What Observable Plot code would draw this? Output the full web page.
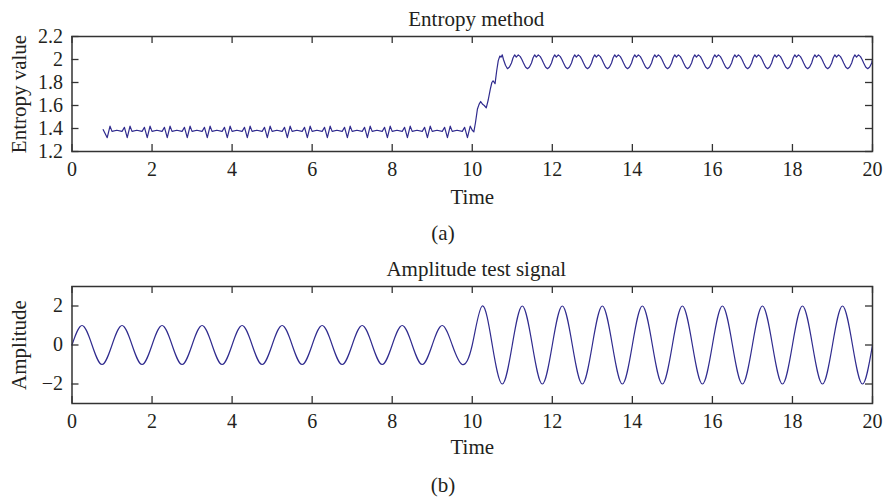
<!DOCTYPE html>
<html><head><meta charset="utf-8">
<script src="https://cdn.jsdelivr.net/npm/d3@7"></script>
<script src="https://cdn.jsdelivr.net/npm/@observablehq/plot@0.6"></script>
<style>html,body{margin:0;padding:0;background:#fff;} #chart svg{display:block;}</style>
</head><body><div id="chart"></div>
<script>
// ---------- data ----------
const titleA = "Entropy method", ylabelA = "Entropy value", captionA = "(a)";
const titleB = "Amplitude test signal", ylabelB = "Amplitude", captionB = "(b)";
const xLabel = "Time";
const xTicks = [0, 2, 4, 6, 8, 10, 12, 14, 16, 18, 20];
const yTicksA = [1.2, 1.4, 1.6, 1.8, 2, 2.2];
const yTicksB = [-2, 0, 2];

const entT = [
  0.78,0.88,0.95,
  1,1.12,1.25,1.31,1.38,1.45,1.5,1.62,1.75,1.81,1.88,1.95,
  2,2.12,2.25,2.31,2.38,2.45,2.5,2.62,2.75,2.81,2.88,2.95,
  3,3.12,3.25,3.31,3.38,3.45,3.5,3.62,3.75,3.81,3.88,3.95,
  4,4.12,4.25,4.31,4.38,4.45,4.5,4.62,4.75,4.81,4.88,4.95,
  5,5.12,5.25,5.31,5.38,5.45,5.5,5.62,5.75,5.81,5.88,5.95,
  6,6.12,6.25,6.31,6.38,6.45,6.5,6.62,6.75,6.81,6.88,6.95,
  7,7.12,7.25,7.31,7.38,7.45,7.5,7.62,7.75,7.81,7.88,7.95,
  8,8.12,8.25,8.31,8.38,8.45,8.5,8.62,8.75,8.81,8.88,8.95,
  9,9.12,9.25,9.31,9.38,9.45,9.5,9.62,9.75,9.81,9.88,9.95,
  10,10.04,10.08,10.13,10.17,10.21,10.26,10.3,10.35,10.4,10.45,10.49,10.52,10.57,10.61,10.65,10.69,10.72,10.75,10.78,10.83,10.88,10.93,10.98,
  11.02,11.06,11.1,11.15,11.2,11.24,11.28,11.33,11.38,11.43,11.48,11.52,11.56,11.6,11.65,11.7,11.74,11.78,11.83,11.88,11.93,11.98,
  12.02,12.06,12.1,12.15,12.2,12.24,12.28,12.33,12.38,12.43,12.48,12.52,12.56,12.6,12.65,12.7,12.74,12.78,12.83,12.88,12.93,12.98,
  13.02,13.06,13.1,13.15,13.2,13.24,13.28,13.33,13.38,13.43,13.48,13.52,13.56,13.6,13.65,13.7,13.74,13.78,13.83,13.88,13.93,13.98,
  14.02,14.06,14.1,14.15,14.2,14.24,14.28,14.33,14.38,14.43,14.48,14.52,14.56,14.6,14.65,14.7,14.74,14.78,14.83,14.88,14.93,14.98,
  15.02,15.06,15.1,15.15,15.2,15.24,15.28,15.33,15.38,15.43,15.48,15.52,15.56,15.6,15.65,15.7,15.74,15.78,15.83,15.88,15.93,15.98,
  16.02,16.06,16.1,16.15,16.2,16.24,16.28,16.33,16.38,16.43,16.48,16.52,16.56,16.6,16.65,16.7,16.74,16.78,16.83,16.88,16.93,16.98,
  17.02,17.06,17.1,17.15,17.2,17.24,17.28,17.33,17.38,17.43,17.48,17.52,17.56,17.6,17.65,17.7,17.74,17.78,17.83,17.88,17.93,17.98,
  18.02,18.06,18.1,18.15,18.2,18.24,18.28,18.33,18.38,18.43,18.48,18.52,18.56,18.6,18.65,18.7,18.74,18.78,18.83,18.88,18.93,18.98,
  19.02,19.06,19.1,19.15,19.2,19.24,19.28,19.33,19.38,19.43,19.48,19.52,19.56,19.6,19.65,19.7,19.74,19.78,19.83,19.88,19.93,19.98,
  20
];
const entV = [
  1.39,1.32,1.42,
  1.375,1.385,1.375,1.41,1.32,1.42,1.375,1.385,1.375,1.41,1.32,1.42,
  1.375,1.385,1.375,1.41,1.32,1.42,1.375,1.385,1.375,1.41,1.32,1.42,
  1.375,1.385,1.375,1.41,1.32,1.42,1.375,1.385,1.375,1.41,1.32,1.42,
  1.375,1.385,1.375,1.41,1.32,1.42,1.375,1.385,1.375,1.41,1.32,1.42,
  1.375,1.385,1.375,1.41,1.32,1.42,1.375,1.385,1.375,1.41,1.32,1.42,
  1.375,1.385,1.375,1.41,1.32,1.42,1.375,1.385,1.375,1.41,1.32,1.42,
  1.375,1.385,1.375,1.41,1.32,1.42,1.375,1.385,1.375,1.41,1.32,1.42,
  1.375,1.385,1.375,1.41,1.32,1.42,1.375,1.385,1.375,1.41,1.32,1.42,
  1.375,1.385,1.375,1.41,1.32,1.42,1.375,1.385,1.375,1.41,1.32,1.42,
  1.385,1.37,1.45,1.57,1.61,1.635,1.61,1.6,1.58,1.65,1.74,1.8,1.815,1.79,1.9,1.99,2.03,2.02,2.04,2.0,1.95,1.92,1.935,1.97,
  2.015,2.04,2.02,2.04,2.025,2,1.97,1.935,1.92,1.935,1.97,2.015,2.04,2.02,2.04,2.025,2,1.97,1.935,1.92,1.935,1.97,
  2.015,2.04,2.02,2.04,2.025,2,1.97,1.935,1.92,1.935,1.97,2.015,2.04,2.02,2.04,2.025,2,1.97,1.935,1.92,1.935,1.97,
  2.015,2.04,2.02,2.04,2.025,2,1.97,1.935,1.92,1.935,1.97,2.015,2.04,2.02,2.04,2.025,2,1.97,1.935,1.92,1.935,1.97,
  2.015,2.04,2.02,2.04,2.025,2,1.97,1.935,1.92,1.935,1.97,2.015,2.04,2.02,2.04,2.025,2,1.97,1.935,1.92,1.935,1.97,
  2.015,2.04,2.02,2.04,2.025,2,1.97,1.935,1.92,1.935,1.97,2.015,2.04,2.02,2.04,2.025,2,1.97,1.935,1.92,1.935,1.97,
  2.015,2.04,2.02,2.04,2.025,2,1.97,1.935,1.92,1.935,1.97,2.015,2.04,2.02,2.04,2.025,2,1.97,1.935,1.92,1.935,1.97,
  2.015,2.04,2.02,2.04,2.025,2,1.97,1.935,1.92,1.935,1.97,2.015,2.04,2.02,2.04,2.025,2,1.97,1.935,1.92,1.935,1.97,
  2.015,2.04,2.02,2.04,2.025,2,1.97,1.935,1.92,1.935,1.97,2.015,2.04,2.02,2.04,2.025,2,1.97,1.935,1.92,1.935,1.97,
  2.015,2.04,2.02,2.04,2.025,2,1.97,1.935,1.92,1.935,1.97,2.015,2.04,2.02,2.04,2.025,2,1.97,1.935,1.92,1.935,1.97,
  2.0
];

const sigT = [
  0,0.25,0.5,0.75,1,1.25,1.5,1.75,2,2.25,2.5,2.75,3,3.25,3.5,3.75,4,4.25,4.5,4.75,
  5,5.25,5.5,5.75,6,6.25,6.5,6.75,7,7.25,7.5,7.75,8,8.25,8.5,8.75,9,9.25,9.5,9.75,
  10,10.25,10.5,10.75,11,11.25,11.5,11.75,12,12.25,12.5,12.75,13,13.25,13.5,13.75,14,14.25,14.5,14.75,
  15,15.25,15.5,15.75,16,16.25,16.5,16.75,17,17.25,17.5,17.75,18,18.25,18.5,18.75,19,19.25,19.5,19.75,
  20
];
const sigV = [
  0,1,0,-1,0,1,0,-1,0,1,0,-1,0,1,0,-1,0,1,0,-1,
  0,1,0,-1,0,1,0,-1,0,1,0,-1,0,1,0,-1,0,1,0,-1,
  0,2,0,-2,0,2,0,-2,0,2,0,-2,0,2,0,-2,0,2,0,-2,
  0,2,0,-2,0,2,0,-2,0,2,0,-2,0,2,0,-2,0,2,0,-2,
  0
];

// ---------- drawing ----------
const W = 885, ML = 71.5, MR = 13, MT = 36, MB = 99, TL = 7;
const FONT = "'Liberation Serif', 'DejaVu Serif', serif";
const INK = "#231f20", LINE = "#302b8e", AX = "#333";

function panel({height, yDomain, yTicks, yFormat, data, curve, title, ylabel, caption, timeDy}) {
  const fh = height - MT - MB, fw = W - ML - MR;
  const capDx = W / 2 - (ML + fw / 2);
  return Plot.plot({
    width: W, height,
    marginLeft: ML, marginRight: MR, marginTop: MT, marginBottom: MB,
    style: {fontFamily: FONT, fontSize: "20px", color: INK, background: "#fff"},
    x: {domain: [0, 20]},
    y: {domain: yDomain},
    marks: [
      Plot.axisX(xTicks, {tickSize: 0, tickPadding: 10, label: null, tickFormat: d => String(d)}),
      Plot.axisY(yTicks, {tickSize: 0, tickPadding: 9, label: null, tickFormat: yFormat}),
      Plot.tickX(xTicks, {x: d => d, insetTop: fh - TL, stroke: AX, strokeWidth: 1.3}),
      Plot.tickX(xTicks, {x: d => d, insetBottom: fh - TL, stroke: AX, strokeWidth: 1.3}),
      Plot.tickY(yTicks, {y: d => d, insetRight: fw - TL, stroke: AX, strokeWidth: 1.3}),
      Plot.tickY(yTicks, {y: d => d, insetLeft: fw - TL, stroke: AX, strokeWidth: 1.3}),
      Plot.line(data, {x: "t", y: "v", curve, stroke: LINE, strokeWidth: 1.2}),
      Plot.frame({stroke: AX, strokeWidth: 1.5}),
      Plot.text([title], {text: d => d, frameAnchor: "top", textAnchor: "middle", lineAnchor: "bottom", dy: -11, dx: 4, fill: INK, fontSize: 21}),
      Plot.text([xLabel], {text: d => d, frameAnchor: "bottom", textAnchor: "middle", lineAnchor: "bottom", dy: timeDy, fill: INK, fontSize: 21}),
      Plot.text([caption], {text: d => d, frameAnchor: "bottom", textAnchor: "middle", lineAnchor: "bottom", dy: 88, dx: capDx, fill: INK, fontSize: 21}),
      Plot.text([ylabel], {text: d => d, frameAnchor: "left", rotate: -90, textAnchor: "middle", lineAnchor: "middle", dx: -(ML - 19), fill: INK, fontSize: 21})
    ]
  });
}

const dataA = entT.map((t, i) => ({t, v: entV[i]}));
const dataB = sigT.map((t, i) => ({t, v: sigV[i]}));

const chart = document.getElementById("chart");
chart.append(panel({
  height: 250, yDomain: [1.2, 2.2], yTicks: yTicksA, yFormat: d => String(d),
  data: dataA, curve: "linear", title: titleA, ylabel: ylabelA, caption: captionA, timeDy: 52
}));
chart.append(panel({
  height: 252, yDomain: [-3, 3], yTicks: yTicksB, yFormat: d => d < 0 ? "\u2212" + Math.abs(d) : String(d),
  data: dataB, curve: "natural", title: titleB, ylabel: ylabelB, caption: captionB, timeDy: 50
}));
</script></body></html>
